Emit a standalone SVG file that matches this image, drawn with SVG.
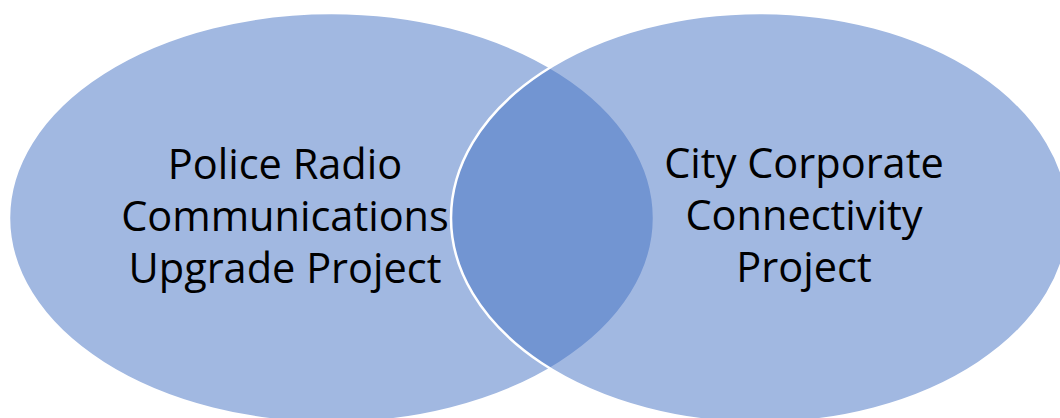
<svg xmlns="http://www.w3.org/2000/svg" width="1060" height="418" viewBox="0 0 1060 418">
  <style>
    .circle { fill: #4472C4; fill-opacity: 0.5; stroke: #FFFFFF; stroke-width: 2.5; }
    .label { font-family: "Open Sans", "Liberation Sans", sans-serif; font-size: 41.5px; fill: #000000; text-anchor: middle; }
  </style>
  <rect x="0" y="0" width="1060" height="418" fill="#FFFFFF"/>
  <g id="node-police">
    <ellipse class="circle" cx="331.5" cy="218" rx="322.5" ry="205"/>
  </g>
  <g id="node-city">
    <ellipse class="circle" cx="760" cy="218" rx="309" ry="205"/>
  </g>
  <g id="connectors"></g>
  <g id="labels">
    <text class="label" x="285" y="179">Police Radio</text>
    <text class="label" x="285" y="231">Communications</text>
    <text class="label" x="285" y="283">Upgrade Project</text>
    <text class="label" x="804" y="178">City Corporate</text>
    <text class="label" x="804" y="230">Connectivity</text>
    <text class="label" x="804" y="282">Project</text>
  </g>
</svg>
